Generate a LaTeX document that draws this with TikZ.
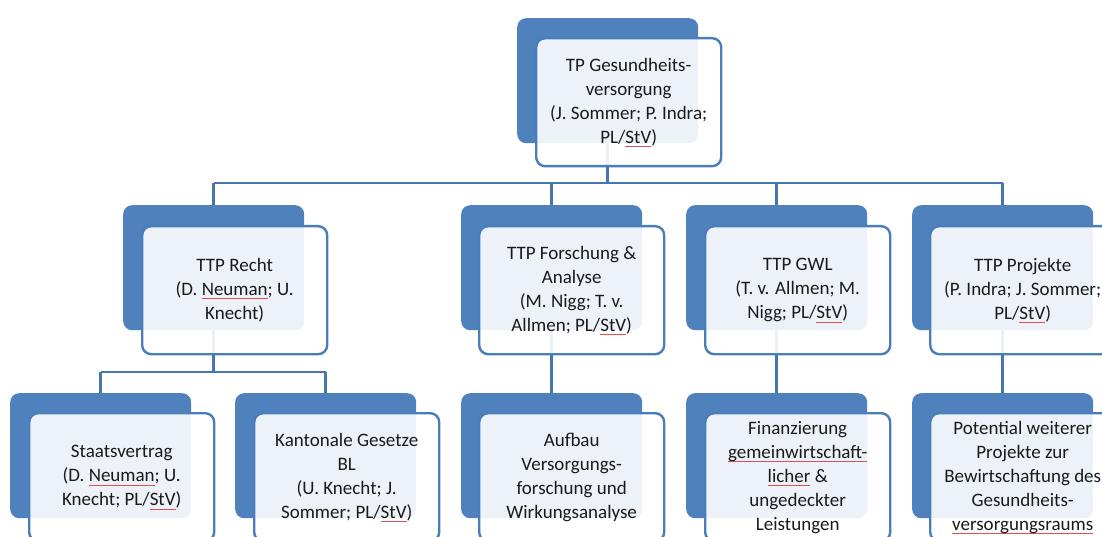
\documentclass[tikz,border=0pt]{standalone}
\usepackage{fontspec}
\setmainfont{Carlito}
\usetikzlibrary{calc}
\definecolor{darkblue}{HTML}{4F81BD}
\definecolor{edgeblue}{HTML}{4A7EBB}
\definecolor{connblue}{HTML}{4675B0}
\definecolor{txt}{HTML}{1A1A1A}
\definecolor{spellred}{HTML}{E05050}
\newcommand\spell[1]{\setbox0\hbox{#1}\rlap{\color{spellred}\rule[-3.5pt]{\wd0}{0.6pt}}\box0\relax}
\tikzset{
  backbox/.style={draw=none, fill=darkblue, rounded corners=9pt, minimum width=181pt, minimum height=125pt, anchor=north west, inner sep=0pt},
  frontbox/.style={draw=edgeblue, line width=2.4pt, fill=white, fill opacity=0.9, text opacity=1, rounded corners=9pt, minimum width=185pt, minimum height=128pt, anchor=north west, inner sep=2pt, align=center, text=txt, font=\fontsize{19}{24}\selectfont},
  conn/.style={draw=connblue, line width=2.8pt}
}
\begin{document}
\begin{tikzpicture}[x=1pt,y=-1pt]
\useasboundingbox (0,0) rectangle (1102,537);
\clip (0,0) rectangle (1102,537);
% back boxes
\node[backbox] (topd) at (517,18) {};
\node[backbox] (rechtd) at (123,205) {};
\node[backbox] (forschd) at (461,205) {};
\node[backbox] (gwld) at (686,205) {};
\node[backbox] (projd) at (912,205) {};
\node[backbox] (staatd) at (10,393) {};
\node[backbox] (kantd) at (235,393) {};
\node[backbox] (aufbd) at (461,393) {};
\node[backbox] (finand) at (686,393) {};
\node[backbox] (potd) at (912,393) {};
% connectors
\coordinate (bus) at (0,183);
\coordinate (bustwo) at (0,372);
\draw[conn] (topd.south) -- (topd.south |- bus);
\draw[conn] (rechtd.north |- bus) -- (projd.north |- bus);
\draw[conn] (rechtd.north |- bus) -- (rechtd.north);
\draw[conn] (forschd.north |- bus) -- (forschd.north);
\draw[conn] (gwld.north |- bus) -- (gwld.north);
\draw[conn] (projd.north |- bus) -- (projd.north);
\draw[conn] (rechtd.south) -- (rechtd.south |- bustwo);
\draw[conn] (staatd.north |- bustwo) -- (kantd.north |- bustwo);
\draw[conn] (staatd.north |- bustwo) -- (staatd.north);
\draw[conn] (kantd.north |- bustwo) -- (kantd.north);
\draw[conn] (forschd.south) -- (aufbd.north);
\draw[conn] (gwld.south) -- (finand.north);
\draw[conn] (projd.south) -- (potd.north);
% front boxes
\node[frontbox] (top) at (535,37) {TP Gesundheits-\\versorgung\\(J. Sommer; P. Indra;\\PL/\spell{StV})};
\node[frontbox] (recht) at (141,225) {TTP Recht\\(D. \spell{Neuman}; U.\\Knecht)};
\node[frontbox] (forsch) at (478,225) {TTP Forschung \&\\Analyse\\(M. Nigg; T. v.\\Allmen; PL/\spell{StV})};
\node[frontbox] (gwl) at (704,225) {TTP GWL\\(T. v. Allmen; M.\\Nigg; PL/\spell{StV})};
\node[frontbox] (proj) at (929,225) {TTP Projekte\\(P. Indra; J. Sommer;\\PL/\spell{StV})};
\node[frontbox] (staat) at (28,412) {Staatsvertrag\\(D. \spell{Neuman}; U.\\Knecht; PL/\spell{StV})};
\node[frontbox] (kant) at (253,412) {Kantonale Gesetze\\BL\\(U. Knecht; J.\\Sommer; PL/\spell{StV})};
\node[frontbox] (aufb) at (478,412) {Aufbau\\Versorgungs-\\forschung und\\Wirkungsanalyse};
\node[frontbox] (finan) at (704,412) {Finanzierung\\\spell{gemeinwirtschaft-}\\\spell{licher} \&\\ungedeckter\\Leistungen};
\node[frontbox] (pot) at (929,412) {Potential weiterer\\Projekte zur\\Bewirtschaftung des\\Gesundheits-\\\spell{versorgungsraums}};
\end{tikzpicture}
\end{document}
